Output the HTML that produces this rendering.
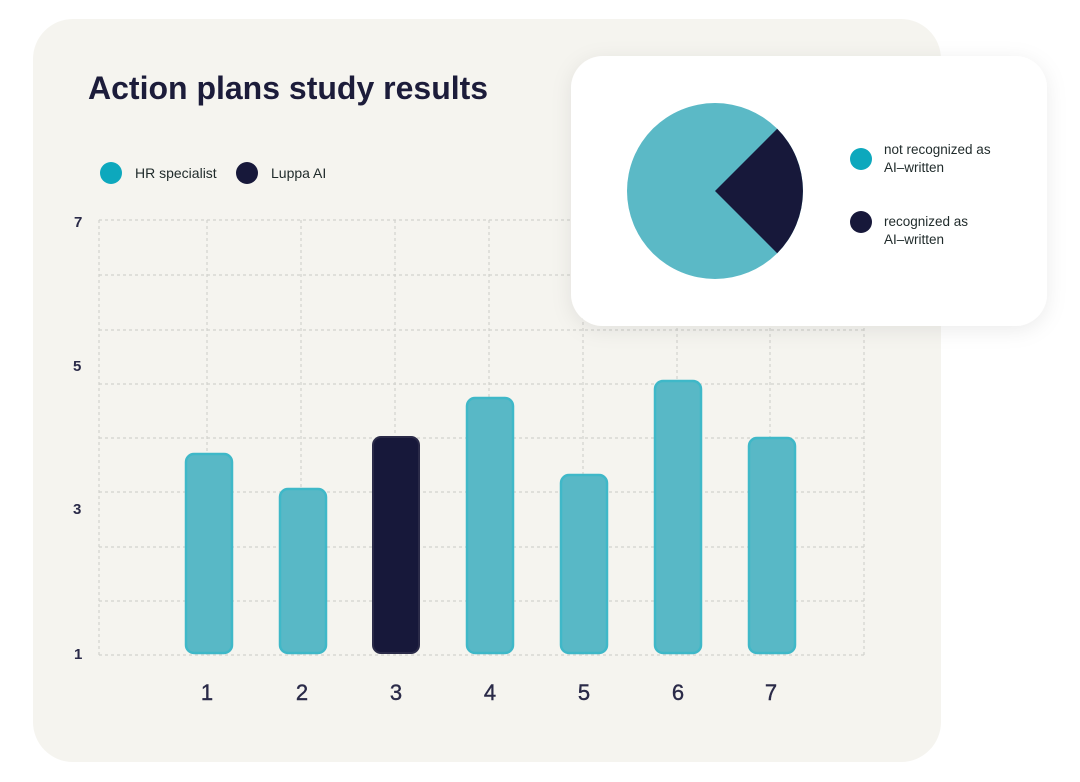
<!DOCTYPE html>
<html><head><style>
body{margin:0;width:1080px;height:782px;background:#fff;position:relative;overflow:hidden;font-family:"Liberation Sans",sans-serif;}
.card{position:absolute;left:33px;top:19px;width:908px;height:743px;border-radius:40px;background:#f5f4ef;}
.t{position:absolute;color:#1c1c3a;}
</style></head><body>
<div class="card"></div>
<div class="t" style="left:88px;top:70px;font-size:32px;font-weight:bold;letter-spacing:0px;">Action plans study results</div>
<svg style="position:absolute;left:0;top:0" width="1080" height="782">
<g fill="#1c1c3a" font-family="Liberation Sans" font-size="15">
<circle cx="111" cy="173" r="11" fill="#0da8bd"/>
<text x="135" y="178" fill="#1f2a2a" font-size="14">HR specialist</text>
<circle cx="247" cy="173" r="11" fill="#17183a"/>
<text x="271" y="178" fill="#1f2a2a" font-size="14">Luppa AI</text>
</g>
<g stroke="#d2d2ce" stroke-width="1.2" stroke-dasharray="3,3" fill="none">
<path d="M99 220H864M99 275H864M99 330H864M99 384H864M99 438H864M99 492H864M99 547H864M99 601H864M99 655H864"/>
<path d="M99 220V655M207 220V655M301 220V655M395 220V655M489 220V655M583 220V655M677 220V655M770 220V655M864 220V655"/>
</g>
<g font-family="Liberation Sans" font-weight="bold" fill="#2a2a48" font-size="15">
<text x="74" y="227">7</text><text x="73" y="371">5</text><text x="73" y="514">3</text><text x="74" y="659">1</text>
</g>
<g fill="#58b8c6" stroke="#3fb8c8" stroke-width="2.5">
<rect x="186" y="454" width="46" height="199" rx="8"/>
<rect x="280" y="489" width="46" height="164" rx="8"/>
<rect x="467" y="398" width="46" height="255" rx="8"/>
<rect x="561" y="475" width="46" height="178" rx="8"/>
<rect x="655" y="381" width="46" height="272" rx="8"/>
<rect x="749" y="438" width="46" height="215" rx="8"/>
</g>
<rect x="373" y="437" width="46" height="216" rx="8" fill="#17183a" stroke="#2a2a48" stroke-width="2"/>
<g font-family="Liberation Sans" fill="#2a2a48" font-size="22" text-anchor="middle" stroke="#2a2a48" stroke-width="0.4">
<text x="207" y="700">1</text><text x="302" y="700">2</text><text x="396" y="700">3</text><text x="490" y="700">4</text><text x="584" y="700">5</text><text x="678" y="700">6</text><text x="771" y="700">7</text>
</g>
<defs><filter id="sh" x="-20%" y="-20%" width="140%" height="140%"><feDropShadow dx="0" dy="4" stdDeviation="10" flood-color="#000" flood-opacity="0.08"/></filter></defs>
<rect x="571" y="56" width="476" height="270" rx="32" fill="#fff" filter="url(#sh)"/>
<circle cx="715" cy="191" r="88" fill="#5bb9c6"/>
<path d="M715 191L777.2 128.8A88 88 0 0 1 777.2 253.2Z" fill="#17183a"/>
<circle cx="861" cy="159" r="11" fill="#0da8bd"/>
<circle cx="861" cy="222" r="11" fill="#17183a"/>
<g font-family="Liberation Sans" font-size="13.5" fill="#1f2a2a">
<text x="884" y="154">not recognized as</text><text x="884" y="172">AI–written</text>
<text x="884" y="226">recognized as</text><text x="884" y="244">AI–written</text>
</g>
</svg>
</body></html>
